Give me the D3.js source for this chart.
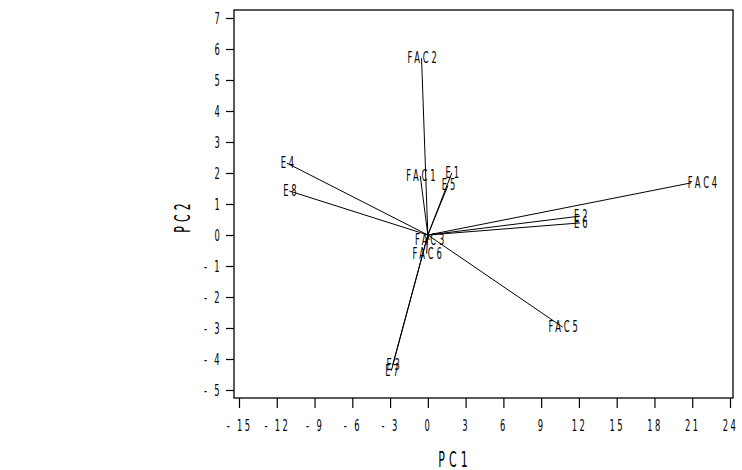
<!DOCTYPE html>
<html>
<head>
    <meta charset="UTF-8">
    <style>
        body { margin: 0; background: #fff; }
        text { font-family: "Liberation Sans Narrow", "DejaVu Sans Condensed", sans-serif; fill: #000; }
    </style>
</head>
<body>
    <svg></svg>
    <script src="https://d3js.org/d3.v7.min.js"></script>
    <script>
        const w = 742, h = 470;

        // vector labels and their end points (PC1, PC2)
        const labels = ["FAC2", "E4", "E8", "FAC1", "E1", "E5", "FAC4", "E2", "E6", "FAC3", "FAC6", "FAC5", "E3", "E7"];
        const pc1 = [-0.5, -11.2, -11.0, -0.6, 1.9, 1.6, 20.9, 12.1, 12.1, 0.1, -0.1, 10.7, -2.8, -2.9];
        const pc2 = [5.7, 2.32, 1.42, 1.9, 2.0, 1.6, 1.68, 0.61, 0.39, -0.16, -0.6, -2.97, -4.2, -4.38];

        const xTicks = [-15, -12, -9, -6, -3, 0, 3, 6, 9, 12, 15, 18, 21, 24];
        const yTicks = [-5, -4, -3, -2, -1, 0, 1, 2, 3, 4, 5, 6, 7];

        const frame = { left: 234, right: 733, top: 10, bottom: 398 };
        const sx = 0.58; // squeeze text horizontally, like the plotter font

        const svg = d3.select("svg").attr("width", w).attr("height", h);

        const x = d3.scaleLinear().domain([-15, 24]).range([239, 730]);
        const y = d3.scaleLinear().domain([-5, 7]).range([390, 18]);

        // narrow text: keeps anchor position but compresses glyphs
        function narrow(sel) {
            sel.each(function () {
                const t = d3.select(this);
                const px = +t.attr("x") || 0;
                t.attr("x", px / sx).attr("transform", "scale(" + sx + ",1)");
            });
        }

        // frame
        svg.append("rect")
            .attr("x", frame.left).attr("y", frame.top)
            .attr("width", frame.right - frame.left)
            .attr("height", frame.bottom - frame.top)
            .attr("fill", "none").attr("stroke", "#000").attr("stroke-width", 1.3);

        // x axis
        const xAxis = d3.axisBottom(x).tickValues(xTicks).tickSize(10).tickPadding(12)
            .tickSizeOuter(0).tickFormat(d => d);
        const gx = svg.append("g").attr("transform", "translate(0," + frame.bottom + ")").call(xAxis);
        gx.select(".domain").remove();

        // y axis
        const yAxis = d3.axisLeft(y).tickValues(yTicks).tickSize(8).tickPadding(4)
            .tickSizeOuter(0).tickFormat(d => d);
        const gy = svg.append("g").attr("transform", "translate(" + frame.left + ",0)").call(yAxis);
        gy.select(".domain").remove();

        svg.selectAll(".tick line").attr("stroke", "#000").attr("stroke-width", 1.2);
        svg.selectAll(".tick text")
            .attr("font-family", "Liberation Sans Narrow, DejaVu Sans Condensed, sans-serif")
            .attr("font-size", 16)
            .attr("letter-spacing", "4px")
            .attr("fill", "#000")
            .text(d => d < 0 ? "- " + Math.abs(d) : d)
            .call(narrow);

        // axis titles
        svg.append("text")
            .attr("x", 455).attr("y", 467)
            .attr("text-anchor", "middle")
            .attr("font-size", 21)
            .attr("letter-spacing", "7px")
            .text("PC1")
            .call(narrow);

        svg.append("g")
            .attr("transform", "translate(190,216) rotate(-90)")
            .append("text")
            .attr("text-anchor", "middle")
            .attr("font-size", 21)
            .attr("letter-spacing", "7px")
            .text("PC2")
            .call(narrow);

        const data = labels.map((d, i) => ({ name: d, x: pc1[i], y: pc2[i] }));

        // vectors
        svg.append("g").selectAll("line")
            .data(data)
            .join("line")
            .attr("x1", x(0)).attr("y1", y(0))
            .attr("x2", d => x(d.x)).attr("y2", d => y(d.y))
            .attr("stroke", "#000").attr("stroke-width", 1);

        // labels
        svg.append("g").selectAll("text")
            .data(data)
            .join("text")
            .attr("x", d => x(d.x) + (d.name === "FAC4" ? 13 : 2))
            .attr("y", d => y(d.y) + 5)
            .attr("text-anchor", "middle")
            .attr("font-size", 16)
            .attr("letter-spacing", "5px")
            .text(d => d.name)
            .call(narrow);
    </script>
</body>
</html>
